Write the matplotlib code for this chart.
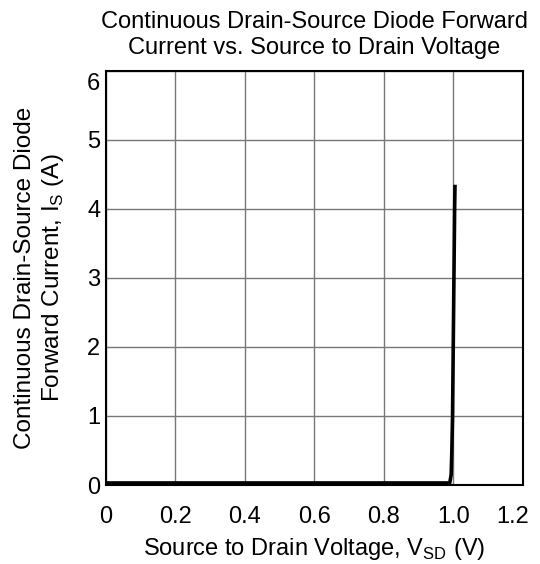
import numpy as np
import matplotlib
matplotlib.use('Agg')
import matplotlib.pyplot as plt
import matplotlib.transforms as mtransforms

plt.rcParams['font.family'] = ['Liberation Sans', 'DejaVu Sans']
plt.rcParams['mathtext.fontset'] = 'custom'
plt.rcParams['mathtext.rm'] = 'Liberation Sans'

# data
vsd = [0.0, 0.2, 0.4, 0.6, 0.8, 0.99, 0.994, 0.996, 0.998, 1.0, 1.002, 1.004, 1.005]
i_s = [0.03, 0.03, 0.03, 0.03, 0.03, 0.03, 0.15, 0.5, 1.0, 2.0, 3.0, 4.0, 4.32]
xticks = [0, 0.2, 0.4, 0.6, 0.8, 1.0, 1.2]
xticklabels = ['0', '0.2', '0.4', '0.6', '0.8', '1.0', '1.2']
yticks = [0, 1, 2, 3, 4, 5, 6]

fs = 17
fig = plt.figure(figsize=(5.4, 5.64), dpi=100)
ax = fig.add_axes([0.196, 0.140, 0.772, 0.735])
ax.plot(vsd, i_s, color='black', lw=2.6, solid_joinstyle='round')
ax.set_xlim(0, 1.2)
ax.set_ylim(0, 6)
ax.set_xticks(xticks)
ax.set_xticklabels(xticklabels)
ax.set_yticks(yticks)
ax.grid(True, color='#777777', lw=1.0)
ax.tick_params(length=0, labelsize=fs)
ax.tick_params(axis='x', pad=15)
ax.tick_params(axis='y', pad=4)
for s in ax.spines.values():
    s.set_linewidth(1.5)
    s.set_color('black')

# end labels sit inside the frame in the original
lab = ax.get_yticklabels()[-1]
lab.set_transform(lab.get_transform() + mtransforms.ScaledTranslation(0, -0.11, fig.dpi_scale_trans))
lab = ax.get_xticklabels()[-1]
lab.set_transform(lab.get_transform() + mtransforms.ScaledTranslation(-0.10, 0, fig.dpi_scale_trans))

ax.set_xlabel('Source to Drain Voltage, V$_\\mathregular{SD}$ (V)', fontsize=fs, labelpad=6)
ax.set_ylabel('Continuous Drain-Source Diode\nForward Current, I$_\\mathregular{S}$ (A)', fontsize=17.5, labelpad=15)
ax.set_title('Continuous Drain-Source Diode Forward\nCurrent vs. Source to Drain Voltage', fontsize=17, pad=12, linespacing=1.25)
fig.savefig('out.png', dpi=100)
